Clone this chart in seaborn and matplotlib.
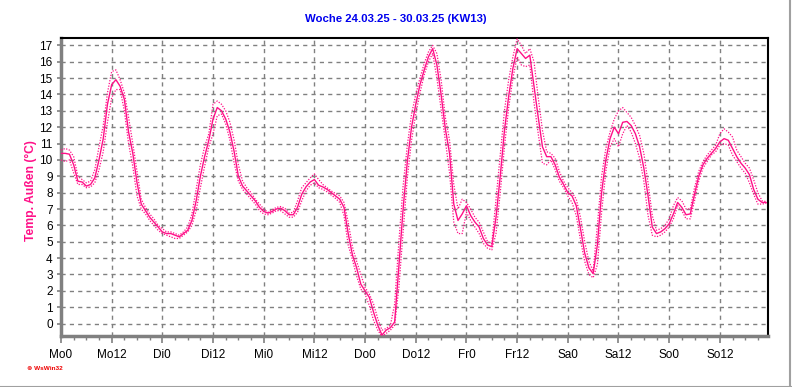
import matplotlib
matplotlib.use("Agg")
import matplotlib.pyplot as plt
import seaborn as sns
import pandas as pd
import numpy as np
from matplotlib.lines import Line2D

hours = list(range(168))
temp_avg = [10.4, 10.4, 10.35, 9.7, 8.7, 8.65, 8.4, 8.5, 8.9, 10.0, 11.3, 13.4, 14.6, 14.9, 14.5, 13.7, 11.7, 10.4, 8.6, 7.3,
            6.9, 6.5, 6.2, 5.9, 5.6, 5.5, 5.5, 5.4, 5.3, 5.5, 5.7, 6.3, 7.5, 9.0, 10.2, 11.2, 12.5, 13.2, 13.0, 12.5,
            11.7, 10.5, 9.0, 8.4, 8.1, 7.8, 7.5, 7.1, 6.85, 6.75, 6.85, 7.0, 7.05, 6.9, 6.65, 6.65, 7.1, 7.9, 8.35, 8.65,
            8.8, 8.45, 8.35, 8.2, 8.0, 7.8, 7.6, 7.1, 5.5, 4.2, 3.4, 2.4, 2.0, 1.6, 0.7, -0.1, -0.7, -0.4, -0.25, 0.1,
            3.5, 7.0, 9.9, 12.0, 13.4, 14.6, 15.5, 16.3, 16.8, 15.8, 14.0, 11.9, 10.4, 7.3, 6.3, 6.7, 7.2, 6.6, 6.2, 5.9,
            5.2, 4.8, 4.7, 6.5, 9.0, 11.8, 13.9, 15.6, 16.8, 16.5, 16.2, 16.4, 14.5, 12.6, 10.8, 10.2, 10.2, 9.7, 8.95, 8.5,
            8.0, 7.8, 7.2, 5.8, 4.3, 3.4, 3.05, 4.8, 8.0, 10.0, 11.3, 12.0, 11.6, 12.3, 12.35, 12.1, 11.6, 10.8, 9.5, 7.8,
            5.9, 5.5, 5.6, 5.8, 6.1, 6.7, 7.4, 7.1, 6.65, 6.7, 7.9, 9.0, 9.7, 10.1, 10.4, 10.7, 11.1, 11.3, 11.2, 10.7,
            10.2, 9.8, 9.5, 9.1, 8.2, 7.6, 7.4, 7.4]
temp_max = [10.6, 10.7, 10.6, 10.2, 9.0, 8.8, 8.6, 8.7, 9.4, 10.8, 12.1, 14.1, 15.4, 15.5, 14.9, 14.1, 12.6, 11.0, 9.3, 7.6,
            7.1, 6.7, 6.4, 6.0, 5.8, 5.6, 5.6, 5.5, 5.4, 5.6, 5.9, 6.7, 8.2, 9.7, 10.8, 11.6, 13.4, 13.6, 13.4, 13.0,
            12.3, 11.2, 9.7, 8.7, 8.3, 8.0, 7.6, 7.3, 7.0, 6.8, 6.95, 7.1, 7.15, 7.05, 6.75, 6.8, 7.5, 8.3, 8.6, 8.9,
            9.15, 8.8, 8.5, 8.3, 8.1, 7.95, 7.8, 7.4, 6.2, 4.7, 3.8, 3.0, 2.2, 1.8, 1.2, 0.3, -0.4, -0.3, -0.1, 1.2,
            5.0, 8.4, 10.9, 12.8, 14.0, 15.0, 15.9, 16.6, 17.0, 16.5, 14.9, 12.6, 11.2, 8.5, 7.0, 7.6, 7.4, 7.0, 6.5, 6.2,
            5.6, 5.0, 4.9, 7.6, 10.3, 13.0, 14.9, 16.3, 17.4, 17.0, 16.5, 16.8, 16.0, 13.8, 11.8, 10.5, 10.4, 10.1, 9.3, 8.7,
            8.3, 8.0, 7.6, 6.5, 5.0, 3.8, 3.2, 6.0, 9.0, 10.7, 11.7, 12.5, 13.0, 13.2, 12.9, 12.6, 12.1, 11.5, 10.4, 8.6,
            6.6, 5.7, 5.8, 6.0, 6.4, 7.2, 7.7, 7.5, 7.0, 7.0, 8.3, 9.3, 9.9, 10.3, 10.6, 10.9, 11.6, 11.9, 11.7, 11.4,
            10.6, 10.2, 9.8, 9.5, 8.8, 8.0, 7.5, 7.45]
temp_min = [10.0, 9.9, 10.0, 9.2, 8.5, 8.5, 8.3, 8.35, 8.6, 9.4, 10.5, 12.3, 13.8, 14.3, 14.3, 13.0, 11.0, 9.6, 7.8, 7.0,
            6.7, 6.3, 6.0, 5.7, 5.5, 5.4, 5.3, 5.2, 5.2, 5.4, 5.6, 6.0, 6.9, 8.3, 9.6, 10.8, 11.6, 12.7, 12.8, 12.2,
            11.2, 9.8, 8.7, 8.2, 7.9, 7.6, 7.3, 6.9, 6.7, 6.65, 6.75, 6.9, 6.9, 6.7, 6.5, 6.5, 6.8, 7.5, 8.1, 8.45,
            8.6, 8.3, 8.2, 8.05, 7.85, 7.65, 7.4, 6.6, 4.8, 3.9, 2.9, 2.1, 1.8, 1.1, 0.2, -0.4, -0.8, -0.6, -0.4, -0.1,
            2.2, 5.6, 8.9, 11.2, 12.8, 14.1, 15.2, 16.0, 16.5, 15.0, 13.1, 11.2, 9.2, 6.2, 5.5, 5.5, 6.8, 6.3, 5.9, 5.5,
            4.9, 4.6, 4.5, 5.5, 8.0, 10.8, 13.2, 15.0, 16.3, 15.8, 15.7, 15.8, 13.5, 11.6, 9.8, 9.7, 10.0, 9.4, 8.7, 8.3,
            7.8, 7.4, 6.6, 5.1, 3.8, 3.0, 2.8, 3.6, 6.8, 9.3, 10.8, 11.3, 10.8, 11.6, 12.1, 11.7, 11.0, 10.1, 8.7, 6.6,
            5.4, 5.3, 5.4, 5.6, 5.9, 6.4, 7.2, 6.9, 6.4, 6.4, 7.5, 8.7, 9.5, 9.9, 10.3, 10.5, 10.9, 11.0, 10.9, 10.3,
            9.9, 9.5, 9.2, 8.6, 7.9, 7.3, 7.3, 7.35]

tick_hours = [0, 12, 24, 36, 48, 60, 72, 84, 96, 108, 120, 132, 144, 156]
tick_labels = ["Mo0", "Mo12", "Di0", "Di12", "Mi0", "Mi12", "Do0", "Do12",
               "Fr0", "Fr12", "Sa0", "Sa12", "So0", "So12"]
y_ticks = list(range(0, 18))

title = "Woche 24.03.25 - 30.03.25 (KW13)"
ylabel = "Temp. Außen (°C)"

sns.set_theme(style="white")
plt.rcParams['font.family'] = ['Liberation Sans', 'DejaVu Sans']

pink = "#ff1088"
fig = plt.figure(figsize=(7.92, 3.87), dpi=100)
fig.patch.set_facecolor("white")
ax = fig.add_axes([61/792, 1-336/387, (768-61)/792, (336-38)/387])
ax.set_facecolor("white")

df = pd.DataFrame({"h": hours, "avg": temp_avg, "max": temp_max, "min": temp_min})
sns.lineplot(data=df, x="h", y="max", ax=ax, color=pink, lw=0.9, linestyle=(0, (1, 1.2)), zorder=3)
sns.lineplot(data=df, x="h", y="min", ax=ax, color=pink, lw=0.9, linestyle=(0, (1, 1.2)), zorder=3)
sns.lineplot(data=df, x="h", y="avg", ax=ax, color=pink, lw=1.0, zorder=4)

ax.set_xlim(0, 167.4)
ax.set_ylim(-0.76, 17.45)
ax.set_xticks(tick_hours)
ax.set_xticklabels(tick_labels)
ax.set_xticks(list(range(0, 168, 3)), minor=True)
ax.set_yticks(y_ticks)
ax.set_yticklabels([str(v) for v in y_ticks])
ax.set_xlabel("")
ax.set_ylabel("")

ax.grid(True, which="major", color="#808080", linestyle=(0, (3, 3)), lw=1.0)
ax.set_axisbelow(True)

ax.tick_params(axis="x", which="major", length=5, width=1.2, color="#808080", pad=4,
               labelsize=8.5, labelcolor="black", bottom=True)
ax.tick_params(axis="x", which="minor", length=3, width=1.0, color="#808080", bottom=True)
ax.tick_params(axis="y", which="major", length=3, width=1.2, color="#808080", pad=3,
               labelsize=8.5, labelcolor="black", left=True)

for s in ["left", "bottom"]:
    ax.spines[s].set_color("#808080")
    ax.spines[s].set_linewidth(2.5)
for s in ["top", "right"]:
    ax.spines[s].set_color("black")
    ax.spines[s].set_linewidth(1.5)

fig.text(0.5, 1-19/387, title, color="#0000ee", fontsize=8.2, fontweight="bold",
         ha="center", va="center")
fig.text(31/792, 1-191/387, ylabel, color=pink, fontsize=8.7, fontweight="bold",
         rotation=90, ha="center", va="center")
fig.text(27/792, 1-368/387, "\u2297 WsWin32", color="#ee0000", fontsize=4.6, fontweight="bold",
         ha="left", va="center")

fig.add_artist(Line2D([0, 1], [0.5/387, 0.5/387], transform=fig.transFigure, color="#a0a0a0", lw=1.5))
fig.add_artist(Line2D([790/792, 790/792], [0, 1], transform=fig.transFigure, color="#a0a0a0", lw=1.5))

fig.savefig("out.png", dpi=100, facecolor="white")
